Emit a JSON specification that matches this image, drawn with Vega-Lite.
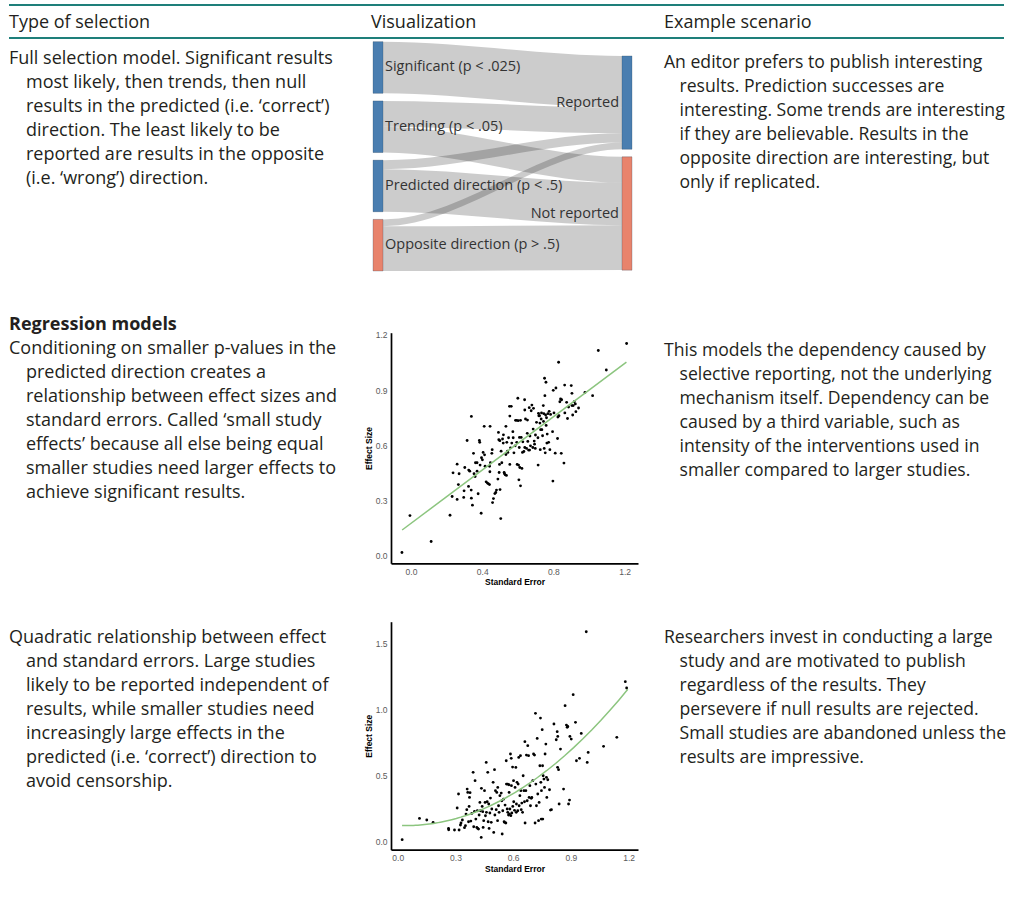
{
  "$schema": "https://vega.github.io/schema/vega-lite/v6.json",
  "background": "white",
  "padding": {"left": 8, "top": 4, "right": 7, "bottom": 4},
  "columns": 3,
  "align": "each",
  "bounds": "flush",
  "spacing": 0,
  "config": {
    "view": {"stroke": null},
    "text": {"font": "Open Sans", "fontSize": 18, "lineHeight": 24, "align": "left", "baseline": "alphabetic", "lineBreak": "\n", "color": "#231f20"},
    "axis": {
      "domainColor": "black", "domainWidth": 1.7, "ticks": false, "grid": false,
      "labelFont": "Liberation Sans", "labelFontSize": 8.5, "labelColor": "#5a5a5a", "labelPadding": 4,
      "titleFont": "Liberation Sans", "titleFontSize": 8.5, "titleFontWeight": "bold", "titleColor": "black", "titlePadding": 2
    }
  },
  "concat": [
    {
      "width": 362, "height": 33,
      "data": {"values": [{"label": "Type of selection"}]},
      "layer": [
        {"mark": {"type": "rule", "color": "#1e7f7a", "strokeWidth": 2}, "encoding": {"y": {"datum": 1, "type": "quantitative", "scale": {"domain": [0, 1]}, "axis": null}}},
        {"mark": {"type": "rule", "color": "#1e7f7a", "strokeWidth": 2}, "encoding": {"y": {"datum": 0, "type": "quantitative", "axis": null}}},
        {"mark": {"type": "text", "dy": 22.7}, "encoding": {"x": {"datum": 0, "type": "quantitative", "scale": {"domain": [0, 1]}, "axis": null}, "y": {"datum": 1, "type": "quantitative", "axis": null}, "text": {"field": "label", "type": "nominal"}}}
      ]
    },
    {
      "width": 293, "height": 33,
      "data": {"values": [{"label": "Visualization"}]},
      "layer": [
        {"mark": {"type": "rule", "color": "#1e7f7a", "strokeWidth": 2}, "encoding": {"y": {"datum": 1, "type": "quantitative", "scale": {"domain": [0, 1]}, "axis": null}}},
        {"mark": {"type": "rule", "color": "#1e7f7a", "strokeWidth": 2}, "encoding": {"y": {"datum": 0, "type": "quantitative", "axis": null}}},
        {"mark": {"type": "text", "dy": 22.7}, "encoding": {"x": {"datum": 0, "type": "quantitative", "scale": {"domain": [0, 1]}, "axis": null}, "y": {"datum": 1, "type": "quantitative", "axis": null}, "text": {"field": "label", "type": "nominal"}}}
      ]
    },
    {
      "width": 340, "height": 33,
      "data": {"values": [{"label": "Example scenario"}]},
      "layer": [
        {"mark": {"type": "rule", "color": "#1e7f7a", "strokeWidth": 2}, "encoding": {"y": {"datum": 1, "type": "quantitative", "scale": {"domain": [0, 1]}, "axis": null}}},
        {"mark": {"type": "rule", "color": "#1e7f7a", "strokeWidth": 2}, "encoding": {"y": {"datum": 0, "type": "quantitative", "axis": null}}},
        {"mark": {"type": "text", "dy": 22.7}, "encoding": {"x": {"datum": 0, "type": "quantitative", "scale": {"domain": [0, 1]}, "axis": null}, "y": {"datum": 1, "type": "quantitative", "axis": null}, "text": {"field": "label", "type": "nominal"}}}
      ]
    },
    {
      "width": 362, "height": 263,
      "data": {"values": [{"first": "Full selection model. Significant results", "rest": "most likely, then trends, then null\nresults in the predicted (i.e. ‘correct’)\ndirection. The least likely to be\nreported are results in the opposite\n(i.e. ‘wrong’) direction."}]},
      "encoding": {
        "x": {"datum": 0, "type": "quantitative", "scale": {"domain": [0, 1]}, "axis": null},
        "y": {"datum": 1, "type": "quantitative", "scale": {"domain": [0, 1]}, "axis": null}
      },
      "layer": [
        {"mark": {"type": "text", "dy": 26.3}, "encoding": {"text": {"field": "first", "type": "nominal"}}},
        {"mark": {"type": "text", "dy": 50.3, "dx": 17}, "encoding": {"text": {"field": "rest", "type": "nominal"}}}
      ]
    },
    {
      "width": 293, "height": 263,
      "layer": [
        {
          "data": {"values": [
            {"flow": "S-R", "x": 0, "y0": 0, "y1": 25}, {"flow": "S-R", "x": 10, "y0": 0, "y1": 25}, {"flow": "S-R", "x": 249, "y0": 6.9, "y1": 31.9}, {"flow": "S-R", "x": 259, "y0": 6.9, "y1": 31.9},
            {"flow": "T-R", "x": 0, "y0": 28.7, "y1": 41.2}, {"flow": "T-R", "x": 10, "y0": 28.7, "y1": 41.2}, {"flow": "T-R", "x": 249, "y0": 31.9, "y1": 44.4}, {"flow": "T-R", "x": 259, "y0": 31.9, "y1": 44.4},
            {"flow": "T-N", "x": 0, "y0": 41.2, "y1": 53.7}, {"flow": "T-N", "x": 10, "y0": 41.2, "y1": 53.7}, {"flow": "T-N", "x": 249, "y0": 55.8, "y1": 68.3}, {"flow": "T-N", "x": 259, "y0": 55.8, "y1": 68.3},
            {"flow": "P-R", "x": 0, "y0": 57.4, "y1": 61.8}, {"flow": "P-R", "x": 10, "y0": 57.4, "y1": 61.8}, {"flow": "P-R", "x": 249, "y0": 44.4, "y1": 48.8}, {"flow": "P-R", "x": 259, "y0": 44.4, "y1": 48.8},
            {"flow": "P-N", "x": 0, "y0": 61.8, "y1": 82.4}, {"flow": "P-N", "x": 10, "y0": 61.8, "y1": 82.4}, {"flow": "P-N", "x": 249, "y0": 68.3, "y1": 88.9}, {"flow": "P-N", "x": 259, "y0": 68.3, "y1": 88.9},
            {"flow": "O-R", "x": 0, "y0": 86.1, "y1": 89.4}, {"flow": "O-R", "x": 10, "y0": 86.1, "y1": 89.4}, {"flow": "O-R", "x": 249, "y0": 48.8, "y1": 52.1}, {"flow": "O-R", "x": 259, "y0": 48.8, "y1": 52.1},
            {"flow": "O-N", "x": 0, "y0": 89.4, "y1": 111.1}, {"flow": "O-N", "x": 10, "y0": 89.4, "y1": 111.1}, {"flow": "O-N", "x": 249, "y0": 88.9, "y1": 110.6}, {"flow": "O-N", "x": 259, "y0": 88.9, "y1": 110.6}
          ]},
          "mark": {"type": "area", "interpolate": "monotone", "color": "black", "opacity": 0.2},
          "encoding": {
            "x": {"field": "x", "type": "quantitative", "scale": {"domain": [0, 259], "range": [2, 261], "nice": false, "zero": false}, "axis": null},
            "y": {"field": "y0", "type": "quantitative", "scale": {"domain": [0, 112.7], "range": [3.7, 236.3], "nice": false, "zero": false}, "axis": null},
            "y2": {"field": "y1"},
            "detail": {"field": "flow", "type": "nominal"}
          }
        },
        {
          "data": {"name": "nodes"},
          "mark": {"type": "rect", "stroke": "#24405a", "strokeWidth": 0.5, "strokeOpacity": 0.5},
          "encoding": {
            "x": {"field": "x0", "type": "quantitative", "axis": null},
            "x2": {"field": "x1"},
            "y": {"field": "y0", "type": "quantitative", "axis": null},
            "y2": {"field": "y1"},
            "color": {"field": "group", "type": "nominal", "scale": {"domain": ["predicted", "opposite"], "range": ["#4a7eb0", "#e8836c"]}, "legend": null}
          }
        },
        {
          "data": {"name": "nodes"},
          "transform": [{"filter": "datum.side == 'source'"}, {"calculate": "(datum.y0 + datum.y1) / 2", "as": "ym"}],
          "mark": {"type": "text", "fontSize": 14.5, "baseline": "middle", "align": "left", "dx": 2, "color": "#333333"},
          "encoding": {
            "x": {"field": "x1", "type": "quantitative", "axis": null},
            "y": {"field": "ym", "type": "quantitative", "axis": null},
            "text": {"field": "node", "type": "nominal"}
          }
        },
        {
          "data": {"name": "nodes"},
          "transform": [{"filter": "datum.side == 'target'"}, {"calculate": "(datum.y0 + datum.y1) / 2", "as": "ym"}],
          "mark": {"type": "text", "fontSize": 14.5, "baseline": "middle", "align": "right", "dx": -3, "color": "#333333"},
          "encoding": {
            "x": {"field": "x0", "type": "quantitative", "axis": null},
            "y": {"field": "ym", "type": "quantitative", "axis": null},
            "text": {"field": "node", "type": "nominal"}
          }
        }
      ]
    },
    {
      "width": 340, "height": 263,
      "data": {"values": [{"first": "An editor prefers to publish interesting", "rest": "results. Prediction successes are\ninteresting. Some trends are interesting\nif they are believable. Results in the\nopposite direction are interesting, but\nonly if replicated."}]},
      "encoding": {
        "x": {"datum": 0, "type": "quantitative", "scale": {"domain": [0, 1]}, "axis": null},
        "y": {"datum": 1, "type": "quantitative", "scale": {"domain": [0, 1]}, "axis": null}
      },
      "layer": [
        {"mark": {"type": "text", "dy": 29.7, "fontSize": 17.6}, "encoding": {"text": {"field": "first", "type": "nominal"}}},
        {"mark": {"type": "text", "dy": 53.7, "dx": 15.5, "fontSize": 17.6}, "encoding": {"text": {"field": "rest", "type": "nominal"}}}
      ]
    },
    {
      "width": 362, "height": 310,
      "data": {"values": [{"heading": "Regression models", "first": "Conditioning on smaller p-values in the", "rest": "predicted direction creates a\nrelationship between effect sizes and\nstandard errors. Called ‘small study\neffects’ because all else being equal\nsmaller studies need larger effects to\nachieve significant results."}]},
      "encoding": {
        "x": {"datum": 0, "type": "quantitative", "scale": {"domain": [0, 1]}, "axis": null},
        "y": {"datum": 1, "type": "quantitative", "scale": {"domain": [0, 1]}, "axis": null}
      },
      "layer": [
        {"mark": {"type": "text", "dy": 29.3, "fontWeight": "bold"}, "encoding": {"text": {"field": "heading", "type": "nominal"}}},
        {"mark": {"type": "text", "dy": 53.3}, "encoding": {"text": {"field": "first", "type": "nominal"}}},
        {"mark": {"type": "text", "dy": 77.3, "dx": 17}, "encoding": {"text": {"field": "rest", "type": "nominal"}}}
      ]
    },
    {
      "width": 293, "height": 262.3,
      "data": {"name": "linear"},
      "layer": [
        {
          "mark": {"type": "circle", "color": "black", "size": 8, "opacity": 1},
          "encoding": {
            "x": {"field": "se", "type": "quantitative", "scale": {"domain": [-0.1125, 1.275], "range": [20, 267], "nice": false, "zero": false}, "axis": {"values": [0, 0.4, 0.8, 1.2], "format": ".1f", "title": "Standard Error"}},
            "y": {"field": "es", "type": "quantitative", "scale": {"domain": [-0.0436, 1.212], "range": [262.3, 31.7], "nice": false, "zero": false}, "axis": {"values": [0, 0.3, 0.6, 0.9, 1.2], "format": ".1f", "title": "Effect Size", "offset": -20}}
          }
        },
        {
          "transform": [{"regression": "es", "on": "se", "extent": [-0.05, 1.21]}],
          "mark": {"type": "line", "color": "#8cc57f", "strokeWidth": 1.5},
          "encoding": {
            "x": {"field": "se", "type": "quantitative"},
            "y": {"field": "es", "type": "quantitative"}
          }
        }
      ]
    },
    {
      "width": 340, "height": 310,
      "data": {"values": [{"first": "This models the dependency caused by", "rest": "selective reporting, not the underlying\nmechanism itself. Dependency can be\ncaused by a third variable, such as\nintensity of the interventions used in\nsmaller compared to larger studies."}]},
      "encoding": {
        "x": {"datum": 0, "type": "quantitative", "scale": {"domain": [0, 1]}, "axis": null},
        "y": {"datum": 1, "type": "quantitative", "scale": {"domain": [0, 1]}, "axis": null}
      },
      "layer": [
        {"mark": {"type": "text", "dy": 55, "fontSize": 17.6}, "encoding": {"text": {"field": "first", "type": "nominal"}}},
        {"mark": {"type": "text", "dy": 79, "dx": 15.5, "fontSize": 17.6}, "encoding": {"text": {"field": "rest", "type": "nominal"}}}
      ]
    },
    {
      "width": 362, "height": 240,
      "data": {"values": [{"first": "Quadratic relationship between effect", "rest": "and standard errors. Large studies\nlikely to be reported independent of\nresults, while smaller studies need\nincreasingly large effects in the\npredicted (i.e. ‘correct’) direction to\navoid censorship."}]},
      "encoding": {
        "x": {"datum": 0, "type": "quantitative", "scale": {"domain": [0, 1]}, "axis": null},
        "y": {"datum": 1, "type": "quantitative", "scale": {"domain": [0, 1]}, "axis": null}
      },
      "layer": [
        {"mark": {"type": "text", "dy": 31.7}, "encoding": {"text": {"field": "first", "type": "nominal"}}},
        {"mark": {"type": "text", "dy": 55.7, "dx": 17}, "encoding": {"text": {"field": "rest", "type": "nominal"}}}
      ]
    },
    {
      "width": 293, "height": 238.7,
      "data": {"name": "quadratic"},
      "layer": [
        {
          "mark": {"type": "circle", "color": "black", "size": 8, "opacity": 1},
          "encoding": {
            "x": {"field": "se", "type": "quantitative", "scale": {"domain": [-0.035, 1.249], "range": [20, 267], "nice": false, "zero": false}, "axis": {"values": [0, 0.3, 0.6, 0.9, 1.2], "format": ".1f", "title": "Standard Error"}},
            "y": {"field": "es", "type": "quantitative", "scale": {"domain": [-0.063, 1.664], "range": [238.7, 10.7], "nice": false, "zero": false}, "axis": {"values": [0, 0.5, 1, 1.5], "format": ".1f", "title": "Effect Size", "offset": -20}}
          }
        },
        {
          "transform": [{"regression": "es", "on": "se", "method": "poly", "order": 2, "extent": [0.0225, 1.196]}],
          "mark": {"type": "line", "color": "#8cc57f", "strokeWidth": 1.5},
          "encoding": {
            "x": {"field": "se", "type": "quantitative"},
            "y": {"field": "es", "type": "quantitative"}
          }
        }
      ]
    },
    {
      "width": 340, "height": 240,
      "data": {"values": [{"first": "Researchers invest in conducting a large", "rest": "study and are motivated to publish\nregardless of the results. They\npersevere if null results are rejected.\nSmall studies are abandoned unless the\nresults are impressive."}]},
      "encoding": {
        "x": {"datum": 0, "type": "quantitative", "scale": {"domain": [0, 1]}, "axis": null},
        "y": {"datum": 1, "type": "quantitative", "scale": {"domain": [0, 1]}, "axis": null}
      },
      "layer": [
        {"mark": {"type": "text", "dy": 31.7, "fontSize": 17.6}, "encoding": {"text": {"field": "first", "type": "nominal"}}},
        {"mark": {"type": "text", "dy": 55.7, "dx": 15.5, "fontSize": 17.6}, "encoding": {"text": {"field": "rest", "type": "nominal"}}}
      ]
    }
  ],
  "datasets": {
    "nodes": [
      {"node": "Significant (p < .025)", "side": "source", "group": "predicted", "x0": 0, "x1": 10, "y0": 0, "y1": 25},
      {"node": "Trending (p < .05)", "side": "source", "group": "predicted", "x0": 0, "x1": 10, "y0": 28.7, "y1": 53.7},
      {"node": "Predicted direction (p < .5)", "side": "source", "group": "predicted", "x0": 0, "x1": 10, "y0": 57.4, "y1": 82.4},
      {"node": "Opposite direction (p > .5)", "side": "source", "group": "opposite", "x0": 0, "x1": 10, "y0": 86.1, "y1": 111.1},
      {"node": "Reported", "side": "target", "group": "predicted", "x0": 249, "x1": 259, "y0": 6.9, "y1": 52.1},
      {"node": "Not reported", "side": "target", "group": "opposite", "x0": 249, "x1": 259, "y0": 55.8, "y1": 110.7}
    ],
    "linear": [
      {"se": -0.051, "es": 0.015}, {"se": -0.006, "es": 0.216}, {"se": 0.113, "es": 0.075}, {"se": 0.219, "es": 0.218},
      {"se": 0.231, "es": 0.32}, {"se": 0.236, "es": 0.449}, {"se": 0.259, "es": 0.304}, {"se": 0.259, "es": 0.496},
      {"se": 0.266, "es": 0.385}, {"se": 0.27, "es": 0.444}, {"se": 0.298, "es": 0.351}, {"se": 0.296, "es": 0.315},
      {"se": 0.302, "es": 0.478}, {"se": 0.315, "es": 0.625}, {"se": 0.323, "es": 0.375}, {"se": 0.324, "es": 0.464},
      {"se": 0.33, "es": 0.458}, {"se": 0.339, "es": 0.756}, {"se": 0.338, "es": 0.355}, {"se": 0.339, "es": 0.311},
      {"se": 0.345, "es": 0.273}, {"se": 0.351, "es": 0.555}, {"se": 0.354, "es": 0.444}, {"se": 0.36, "es": 0.429},
      {"se": 0.362, "es": 0.504}, {"se": 0.371, "es": 0.458}, {"se": 0.377, "es": 0.335}, {"se": 0.371, "es": 0.504},
      {"se": 0.384, "es": 0.625}, {"se": 0.386, "es": 0.615}, {"se": 0.388, "es": 0.491}, {"se": 0.394, "es": 0.229},
      {"se": 0.396, "es": 0.531}, {"se": 0.401, "es": 0.52}, {"se": 0.405, "es": 0.56}, {"se": 0.411, "es": 0.702},
      {"se": 0.413, "es": 0.547}, {"se": 0.416, "es": 0.485}, {"se": 0.422, "es": 0.4}, {"se": 0.429, "es": 0.393},
      {"se": 0.435, "es": 0.389}, {"se": 0.441, "es": 0.385}, {"se": 0.441, "es": 0.485}, {"se": 0.444, "es": 0.702},
      {"se": 0.443, "es": 0.455}, {"se": 0.446, "es": 0.504}, {"se": 0.454, "es": 0.555}, {"se": 0.456, "es": 0.575},
      {"se": 0.458, "es": 0.287}, {"se": 0.463, "es": 0.309}, {"se": 0.471, "es": 0.336}, {"se": 0.476, "es": 0.342},
      {"se": 0.48, "es": 0.355}, {"se": 0.488, "es": 0.415}, {"se": 0.491, "es": 0.669}, {"se": 0.493, "es": 0.629},
      {"se": 0.495, "es": 0.451}, {"se": 0.497, "es": 0.495}, {"se": 0.499, "es": 0.624}, {"se": 0.5, "es": 0.358},
      {"se": 0.504, "es": 0.2}, {"se": 0.506, "es": 0.567}, {"se": 0.51, "es": 0.504}, {"se": 0.514, "es": 0.633},
      {"se": 0.518, "es": 0.611}, {"se": 0.519, "es": 0.656}, {"se": 0.523, "es": 0.451}, {"se": 0.525, "es": 0.444},
      {"se": 0.529, "es": 0.438}, {"se": 0.533, "es": 0.702}, {"se": 0.533, "es": 0.549}, {"se": 0.536, "es": 0.435},
      {"se": 0.538, "es": 0.615}, {"se": 0.542, "es": 0.567}, {"se": 0.544, "es": 0.56}, {"se": 0.548, "es": 0.64},
      {"se": 0.553, "es": 0.811}, {"se": 0.555, "es": 0.758}, {"se": 0.555, "es": 0.495}, {"se": 0.559, "es": 0.585},
      {"se": 0.563, "es": 0.811}, {"se": 0.566, "es": 0.611}, {"se": 0.572, "es": 0.673}, {"se": 0.574, "es": 0.64},
      {"se": 0.578, "es": 0.558}, {"se": 0.585, "es": 0.596}, {"se": 0.587, "es": 0.735}, {"se": 0.593, "es": 0.735},
      {"se": 0.594, "es": 0.615}, {"se": 0.596, "es": 0.495}, {"se": 0.6, "es": 0.855}, {"se": 0.602, "es": 0.733},
      {"se": 0.604, "es": 0.491}, {"se": 0.606, "es": 0.411}, {"se": 0.608, "es": 0.587}, {"se": 0.609, "es": 0.642},
      {"se": 0.611, "es": 0.478}, {"se": 0.615, "es": 0.378}, {"se": 0.615, "es": 0.735}, {"se": 0.619, "es": 0.642},
      {"se": 0.623, "es": 0.473}, {"se": 0.626, "es": 0.56}, {"se": 0.628, "es": 0.618}, {"se": 0.634, "es": 0.565},
      {"se": 0.638, "es": 0.847}, {"se": 0.639, "es": 0.587}, {"se": 0.639, "es": 0.791}, {"se": 0.643, "es": 0.742},
      {"se": 0.649, "es": 0.582}, {"se": 0.653, "es": 0.664}, {"se": 0.654, "es": 0.736}, {"se": 0.656, "es": 0.62},
      {"se": 0.66, "es": 0.573}, {"se": 0.664, "es": 0.804}, {"se": 0.666, "es": 0.573}, {"se": 0.668, "es": 0.649},
      {"se": 0.671, "es": 0.596}, {"se": 0.675, "es": 0.787}, {"se": 0.679, "es": 0.818}, {"se": 0.684, "es": 0.587},
      {"se": 0.686, "es": 0.687}, {"se": 0.688, "es": 0.8}, {"se": 0.692, "es": 0.622}, {"se": 0.694, "es": 0.605},
      {"se": 0.698, "es": 0.582}, {"se": 0.699, "es": 0.655}, {"se": 0.705, "es": 0.724}, {"se": 0.713, "es": 0.64},
      {"se": 0.714, "es": 0.491}, {"se": 0.716, "es": 0.773}, {"se": 0.718, "es": 0.76}, {"se": 0.722, "es": 0.76},
      {"se": 0.724, "es": 0.72}, {"se": 0.726, "es": 0.575}, {"se": 0.728, "es": 0.684}, {"se": 0.731, "es": 0.742},
      {"se": 0.733, "es": 0.775}, {"se": 0.735, "es": 0.684}, {"se": 0.739, "es": 0.651}, {"se": 0.743, "es": 0.815},
      {"se": 0.744, "es": 0.729}, {"se": 0.746, "es": 0.771}, {"se": 0.748, "es": 0.582}, {"se": 0.75, "es": 0.964},
      {"se": 0.752, "es": 0.869}, {"se": 0.754, "es": 0.558}, {"se": 0.756, "es": 0.764}, {"se": 0.758, "es": 0.942},
      {"se": 0.759, "es": 0.707}, {"se": 0.761, "es": 0.749}, {"se": 0.763, "es": 0.611}, {"se": 0.765, "es": 0.66},
      {"se": 0.769, "es": 0.771}, {"se": 0.773, "es": 0.615}, {"se": 0.776, "es": 0.784}, {"se": 0.78, "es": 0.575},
      {"se": 0.784, "es": 0.767}, {"se": 0.795, "es": 0.673}, {"se": 0.797, "es": 0.404}, {"se": 0.799, "es": 0.898},
      {"se": 0.803, "es": 0.775}, {"se": 0.81, "es": 0.556}, {"se": 0.814, "es": 0.911}, {"se": 0.823, "es": 0.636},
      {"se": 0.825, "es": 0.753}, {"se": 0.829, "es": 1.051}, {"se": 0.831, "es": 0.76}, {"se": 0.836, "es": 0.836},
      {"se": 0.84, "es": 0.851}, {"se": 0.844, "es": 0.555}, {"se": 0.846, "es": 0.847}, {"se": 0.859, "es": 0.502},
      {"se": 0.863, "es": 0.927}, {"se": 0.864, "es": 0.775}, {"se": 0.874, "es": 0.833}, {"se": 0.879, "es": 0.745},
      {"se": 0.885, "es": 0.807}, {"se": 0.9, "es": 0.924}, {"se": 0.904, "es": 0.882}, {"se": 0.904, "es": 0.815},
      {"se": 0.908, "es": 0.764}, {"se": 0.911, "es": 0.815}, {"se": 0.917, "es": 0.836}, {"se": 0.923, "es": 0.824},
      {"se": 0.926, "es": 0.782}, {"se": 0.941, "es": 0.802}, {"se": 0.977, "es": 0.887}, {"se": 1.02, "es": 0.869},
      {"se": 1.052, "es": 1.115}, {"se": 1.097, "es": 1.009}, {"se": 1.211, "es": 1.153}
    ],
    "quadratic": [
      {"se": 0.023, "es": 0.013}, {"se": 0.113, "es": 0.174}, {"se": 0.151, "es": 0.162}, {"se": 0.184, "es": 0.144},
      {"se": 0.264, "es": 0.098}, {"se": 0.265, "es": 0.088}, {"se": 0.295, "es": 0.086}, {"se": 0.309, "es": 0.253},
      {"se": 0.316, "es": 0.359}, {"se": 0.319, "es": 0.086}, {"se": 0.326, "es": 0.124}, {"se": 0.329, "es": 0.139},
      {"se": 0.336, "es": 0.162}, {"se": 0.347, "es": 0.104}, {"se": 0.352, "es": 0.119}, {"se": 0.355, "es": 0.207},
      {"se": 0.359, "es": 0.24}, {"se": 0.361, "es": 0.396}, {"se": 0.364, "es": 0.371}, {"se": 0.368, "es": 0.149},
      {"se": 0.371, "es": 0.265}, {"se": 0.373, "es": 0.333}, {"se": 0.376, "es": 0.369}, {"se": 0.38, "es": 0.154},
      {"se": 0.385, "es": 0.212}, {"se": 0.392, "es": 0.523}, {"se": 0.395, "es": 0.111}, {"se": 0.399, "es": 0.227},
      {"se": 0.402, "es": 0.46}, {"se": 0.406, "es": 0.169}, {"se": 0.411, "es": 0.106}, {"se": 0.414, "es": 0.232},
      {"se": 0.416, "es": 0.098}, {"se": 0.42, "es": 0.093}, {"se": 0.423, "es": 0.2}, {"se": 0.427, "es": 0.295},
      {"se": 0.43, "es": 0.232}, {"se": 0.434, "es": 0.03}, {"se": 0.435, "es": 0.402}, {"se": 0.439, "es": 0.265},
      {"se": 0.442, "es": 0.225}, {"se": 0.444, "es": 0.106}, {"se": 0.447, "es": 0.157}, {"se": 0.451, "es": 0.384},
      {"se": 0.454, "es": 0.295}, {"se": 0.456, "es": 0.194}, {"se": 0.46, "es": 0.598}, {"se": 0.461, "es": 0.22},
      {"se": 0.465, "es": 0.3}, {"se": 0.468, "es": 0.523}, {"se": 0.47, "es": 0.149}, {"se": 0.473, "es": 0.283},
      {"se": 0.475, "es": 0.098}, {"se": 0.479, "es": 0.215}, {"se": 0.482, "es": 0.328}, {"se": 0.486, "es": 0.144},
      {"se": 0.489, "es": 0.245}, {"se": 0.496, "es": 0.447}, {"se": 0.499, "es": 0.068}, {"se": 0.503, "es": 0.543},
      {"se": 0.505, "es": 0.2}, {"se": 0.508, "es": 0.384}, {"se": 0.512, "es": 0.24}, {"se": 0.515, "es": 0.371},
      {"se": 0.519, "es": 0.157}, {"se": 0.52, "es": 0.409}, {"se": 0.524, "es": 0.27}, {"se": 0.527, "es": 0.22},
      {"se": 0.531, "es": 0.346}, {"se": 0.538, "es": 0.366}, {"se": 0.541, "es": 0.308}, {"se": 0.543, "es": 0.056},
      {"se": 0.546, "es": 0.232}, {"se": 0.55, "es": 0.32}, {"se": 0.553, "es": 0.149}, {"se": 0.555, "es": 0.144},
      {"se": 0.558, "es": 0.275}, {"se": 0.562, "es": 0.139}, {"se": 0.564, "es": 0.611}, {"se": 0.565, "es": 0.434},
      {"se": 0.569, "es": 0.245}, {"se": 0.571, "es": 0.434}, {"se": 0.572, "es": 0.22}, {"se": 0.576, "es": 0.2},
      {"se": 0.578, "es": 0.429}, {"se": 0.579, "es": 0.371}, {"se": 0.581, "es": 0.207}, {"se": 0.583, "es": 0.245},
      {"se": 0.586, "es": 0.662}, {"se": 0.588, "es": 0.195}, {"se": 0.59, "es": 0.629}, {"se": 0.591, "es": 0.422},
      {"se": 0.593, "es": 0.215}, {"se": 0.597, "es": 0.563}, {"se": 0.598, "es": 0.265}, {"se": 0.602, "es": 0.46},
      {"se": 0.603, "es": 0.3}, {"se": 0.607, "es": 0.235}, {"se": 0.61, "es": 0.409}, {"se": 0.614, "es": 0.56},
      {"se": 0.616, "es": 0.22}, {"se": 0.617, "es": 0.283}, {"se": 0.62, "es": 0.447}, {"se": 0.624, "es": 0.232},
      {"se": 0.626, "es": 0.434}, {"se": 0.629, "es": 0.636}, {"se": 0.631, "es": 0.27}, {"se": 0.635, "es": 0.346},
      {"se": 0.638, "es": 0.649}, {"se": 0.64, "es": 0.384}, {"se": 0.642, "es": 0.24}, {"se": 0.645, "es": 0.29},
      {"se": 0.649, "es": 0.22}, {"se": 0.652, "es": 0.497}, {"se": 0.656, "es": 0.384}, {"se": 0.659, "es": 0.3},
      {"se": 0.661, "es": 0.755}, {"se": 0.662, "es": 0.139}, {"se": 0.666, "es": 0.384}, {"se": 0.669, "es": 0.654},
      {"se": 0.673, "es": 0.308}, {"se": 0.676, "es": 0.725}, {"se": 0.68, "es": 0.649}, {"se": 0.683, "es": 0.333},
      {"se": 0.687, "es": 0.422}, {"se": 0.69, "es": 0.27}, {"se": 0.694, "es": 0.326}, {"se": 0.697, "es": 0.333},
      {"se": 0.702, "es": 0.46}, {"se": 0.706, "es": 0.662}, {"se": 0.711, "es": 0.654}, {"se": 0.714, "es": 0.139},
      {"se": 0.716, "es": 0.97}, {"se": 0.718, "es": 0.434}, {"se": 0.721, "es": 0.27}, {"se": 0.725, "es": 0.78},
      {"se": 0.728, "es": 0.359}, {"se": 0.732, "es": 0.157}, {"se": 0.735, "es": 0.295}, {"se": 0.739, "es": 0.573},
      {"se": 0.742, "es": 0.934}, {"se": 0.744, "es": 0.447}, {"se": 0.746, "es": 0.169}, {"se": 0.747, "es": 0.384},
      {"se": 0.751, "es": 0.846}, {"se": 0.753, "es": 0.573}, {"se": 0.754, "es": 0.169}, {"se": 0.756, "es": 0.497},
      {"se": 0.76, "es": 0.472}, {"se": 0.763, "es": 0.409}, {"se": 0.766, "es": 0.662}, {"se": 0.77, "es": 0.737},
      {"se": 0.773, "es": 0.485}, {"se": 0.775, "es": 0.333}, {"se": 0.78, "es": 0.467}, {"se": 0.789, "es": 0.391},
      {"se": 0.794, "es": 0.237}, {"se": 0.799, "es": 0.24}, {"se": 0.812, "es": 0.889}, {"se": 0.824, "es": 0.77},
      {"se": 0.829, "es": 0.831}, {"se": 0.831, "es": 0.561}, {"se": 0.832, "es": 0.795}, {"se": 0.836, "es": 0.543},
      {"se": 0.839, "es": 0.283}, {"se": 0.846, "es": 0.699}, {"se": 0.862, "es": 0.396}, {"se": 0.87, "es": 1.028},
      {"se": 0.877, "es": 0.881}, {"se": 0.881, "es": 0.864}, {"se": 0.884, "es": 0.871}, {"se": 0.888, "es": 0.283},
      {"se": 0.893, "es": 0.313}, {"se": 0.895, "es": 0.795}, {"se": 0.902, "es": 0.775}, {"se": 0.912, "es": 1.111},
      {"se": 0.924, "es": 0.902}, {"se": 0.929, "es": 0.611}, {"se": 0.945, "es": 0.629}, {"se": 0.954, "es": 0.818},
      {"se": 0.98, "es": 1.588}, {"se": 0.985, "es": 0.598}, {"se": 0.99, "es": 0.674}, {"se": 1.07, "es": 0.72},
      {"se": 1.139, "es": 0.788}, {"se": 1.183, "es": 1.21}, {"se": 1.19, "es": 1.162}
    ]
  }
}
